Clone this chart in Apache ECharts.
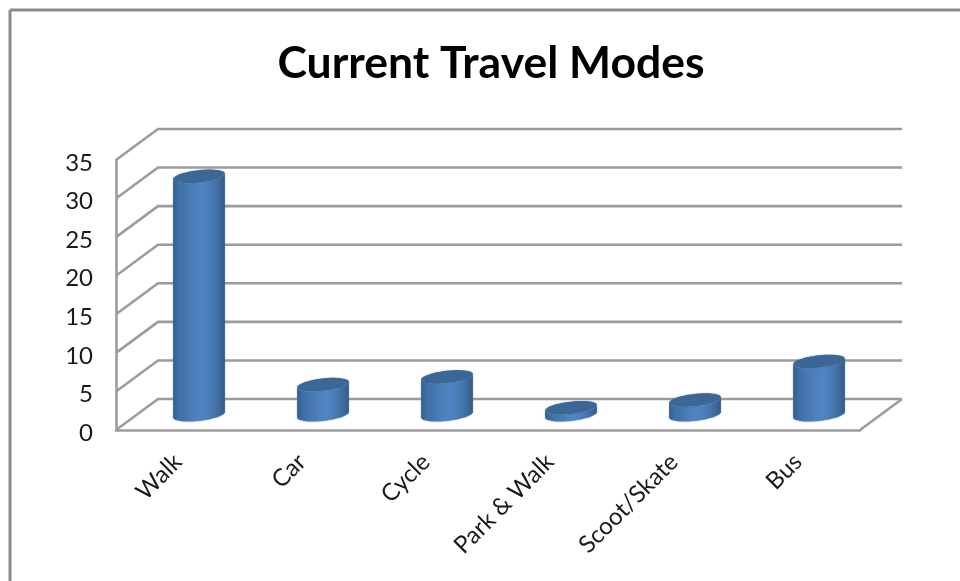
<!DOCTYPE html>
<html>
<head>
<meta charset="utf-8">
<style>html,body{margin:0;padding:0;background:#fff}#c{width:960px;height:581px}</style>
<script src="https://cdn.jsdelivr.net/npm/echarts@6/dist/echarts.min.js"></script>
</head>
<body>
<div id="c"></div>
<script>
const categories = ['Walk', 'Car', 'Cycle', 'Park & Walk', 'Scoot/Skate', 'Bus'];
const values = [31, 4, 5, 1, 2, 7];
const yTicks = [0, 5, 10, 15, 20, 25, 30, 35];

const depthX = 42, depthY = -31;
const FONT = 'Lato, "Open Sans", sans-serif';
const GRAY = '#9c9c9c';

function ellipsePts(cx, cy, a, b, th, t0, t1, n) {
  const pts = [];
  for (let i = 0; i <= n; i++) {
    const t = t0 + (t1 - t0) * i / n;
    pts.push([
      cx + a * Math.cos(t) * Math.cos(th) - b * Math.sin(t) * Math.sin(th),
      cy + a * Math.cos(t) * Math.sin(th) + b * Math.sin(t) * Math.cos(th)
    ]);
  }
  return pts;
}

function renderWall(params, api) {
  const g = params.coordSys;
  const y = api.coord([0, api.value(0)])[1];
  const l = g.x, r = g.x + g.width;
  const pts = [[l, y], [l + depthX, y + depthY], [r + depthX, y + depthY]];
  const children = [{
    type: 'polyline', shape: {points: pts},
    style: {stroke: GRAY, lineWidth: 2.6, fill: null}
  }];
  if (api.value(0) === 0) {
    children.push({
      type: 'polyline', shape: {points: [[r, y], [r + depthX, y + depthY]]},
      style: {stroke: GRAY, lineWidth: 2.6, fill: null}
    });
  }
  return {type: 'group', children};
}

function renderCylinder(params, api) {
  const idx = api.value(0), v = api.value(1);
  const base = api.coord([idx, 0]);
  const top = api.coord([idx, v]);
  const bw = api.size([1, 0])[0] * 0.42;
  const a = bw / 2, b = 6.2, th = -6.5 * Math.PI / 180;
  const cx = base[0] + depthX / 2;
  const by = base[1] + depthY / 2 + 0.2;
  const ty = top[1] + depthY / 2 + 1;
  const t0 = Math.atan2(-b * Math.sin(th), a * Math.cos(th));
  const lower = ellipsePts(cx, by, a, b, th, t0, t0 + Math.PI, 40);
  const upper = ellipsePts(cx, ty, a, b, th, t0 + Math.PI, t0, 40);
  const grad = {
    type: 'linear', x: 0, y: 0, x2: 1, y2: 0,
    colorStops: [
      {offset: 0, color: '#33608f'},
      {offset: 0.12, color: '#3f6fa6'},
      {offset: 0.38, color: '#4b7eba'},
      {offset: 0.55, color: '#5085c4'},
      {offset: 0.78, color: '#4878b2'},
      {offset: 0.93, color: '#3a6595'},
      {offset: 1, color: '#325a85'}
    ]
  };
  return {
    type: 'group',
    children: [
      {type: 'polygon', shape: {points: lower.concat(upper)}, style: {fill: grad, shadowBlur: 2, shadowColor: 'rgba(90,110,140,0.5)'}},
      {type: 'polygon', shape: {points: ellipsePts(cx, ty, a, b, th, 0, Math.PI * 2, 80)}, style: {fill: '#3b6796', shadowBlur: 1.5, shadowColor: 'rgba(59,103,150,0.6)'}}
    ]
  };
}

const chart = echarts.init(document.getElementById('c'), null, {renderer: 'canvas'});
chart.setOption({
  animation: false,
  backgroundColor: '#fff',
  title: {
    text: 'Current Travel Modes',
    left: 486, top: 36, textAlign: 'center',
    textStyle: {fontFamily: FONT, fontSize: 44.5, fontWeight: 'bold', color: '#000'}
  },
  grid: {left: 116, top: 160, width: 744, height: 270},
  xAxis: {
    type: 'category', data: categories,
    axisTick: {show: false},
    axisLine: {lineStyle: {color: GRAY, width: 2.6}},
    axisLabel: {interval: 0, rotate: 45, margin: 28, fontFamily: FONT, fontSize: 24, color: '#1a1a1a'}
  },
  yAxis: {
    type: 'value', min: 0, max: 35, interval: 5,
    axisLine: {show: true, lineStyle: {color: GRAY, width: 2.6}},
    axisTick: {show: false},
    splitLine: {show: false},
    axisLabel: {margin: 23, fontFamily: FONT, fontSize: 24, color: '#1a1a1a', verticalAlign: 'top', lineHeight: 6}
  },
  graphic: [
    {type: 'line', shape: {x1: 10, y1: 10, x2: 960, y2: 10}, style: {stroke: '#8a8a8a', lineWidth: 3}},
    {type: 'line', shape: {x1: 10, y1: 10, x2: 10, y2: 581}, style: {stroke: '#8a8a8a', lineWidth: 3}}
  ],
  series: [
    {type: 'custom', renderItem: renderWall, data: yTicks.map(v => [v]), encode: {y: 0}, z: 1, silent: true},
    {type: 'custom', renderItem: renderCylinder, data: values.map((v, i) => [i, v]), encode: {x: 0, y: 1}, z: 2, silent: true}
  ]
});
</script>
</body>
</html>
